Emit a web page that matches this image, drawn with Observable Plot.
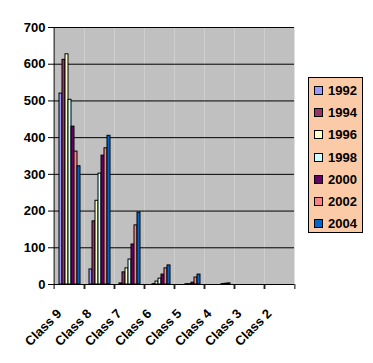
<!DOCTYPE html>
<html>
<head>
<meta charset="utf-8">
<script src="https://cdn.jsdelivr.net/npm/d3@7"></script>
<script src="https://cdn.jsdelivr.net/npm/@observablehq/plot@0.6"></script>
<style>
  html, body { margin: 0; padding: 0; background: white; }
  #wrap { position: relative; width: 373px; height: 363px; }
  #legend {
    position: absolute; left: 308px; top: 77px; width: 55px; height: 156px;
    box-sizing: border-box; border: 1px solid black; background: #fbcaa7;
    font: bold 13px "Liberation Sans", Arial, sans-serif;
    padding-top: 1px;
  }
  .item { display: flex; align-items: center; height: 22.3px; padding-left: 5px; }
  .sw { width: 7px; height: 7px; border: 1px solid black; margin-right: 5px; }
</style>
</head>
<body>
<div id="wrap"></div>
<script>
const classes = ["Class 9", "Class 8", "Class 7", "Class 6", "Class 5", "Class 4", "Class 3", "Class 2"];
const years = ["1992", "1994", "1996", "1998", "2000", "2002", "2004"];
const colors = ["#9999ff", "#993366", "#ffffcc", "#ccffff", "#660066", "#ff8080", "#0066cc"];
const yTicks = [0, 100, 200, 300, 400, 500, 600, 700];

const v1992 = [520, 41, 3, 0, 0, 0, 0, 0];
const v1994 = [612, 172, 33, 1, 0, 0, 0, 0];
const v1996 = [627, 228, 44, 8, 1, 0, 0, 0];
const v1998 = [503, 302, 68, 16, 1, 0, 0, 0];
const v2000 = [430, 351, 109, 27, 5, 1, 0, 0];
const v2002 = [362, 371, 161, 44, 19, 2, 0, 0];
const v2004 = [322, 405, 196, 52, 27, 3, 0, 0];

const series = [v1992, v1994, v1996, v1998, v2000, v2002, v2004];
const rows = [];
years.forEach((yr, i) => classes.forEach((c, j) => rows.push({cls: c, year: yr, value: series[i][j]})));

const W = 373, H = 363, mL = 51, mR = 76, mT = 27, mB = 79;
const half = (W - mL - mR) / classes.length / 2;

const chart = Plot.plot({
  width: W, height: H,
  marginLeft: mL, marginRight: mR, marginTop: mT, marginBottom: mB,
  style: {fontFamily: "'Liberation Sans', Arial, sans-serif", fontSize: "13px", fontWeight: "bold", color: "black", background: "white"},
  fx: {domain: classes, padding: 0, label: null, axis: null},
  x: {domain: years, paddingInner: 0, paddingOuter: 0.5, axis: null},
  y: {domain: [0, 700], label: null, axis: null},
  color: {domain: years, range: colors},
  marks: [
    Plot.frame({fill: "#c0c0c0", stroke: null}),
    Plot.gridY(yTicks, {stroke: "black", strokeOpacity: 1}),
    Plot.barY(rows, {fx: "cls", x: "year", y: "value", fill: "year", stroke: "black", strokeWidth: 1}),
    Plot.ruleY([0], {stroke: "black"}),
    Plot.ruleX([classes[0]], {fx: d => d, x: null, dx: -half, stroke: "black"}),
    Plot.axisY(yTicks, {anchor: "left", tickSize: 6, tickPadding: 3, fontSize: 13, fontWeight: "bold", label: null}),
    Plot.axisFx({anchor: "bottom", tickSize: 0, tickRotate: -45, tickPadding: 27, dx: -10, fontSize: 13, fontWeight: "bold", label: null}),
    Plot.axisFx({anchor: "bottom", tickSize: 5, fill: "none", dx: -half, label: null}),
    Plot.axisFx([classes[classes.length - 1]], {anchor: "bottom", tickSize: 5, fill: "none", dx: half, label: null})
  ]
});

d3.select(chart).selectAll("text")
  .attr("font-size", 13)
  .style("font-size", "13px")
  .style("font-weight", "bold")
  .style("font-family", "'Liberation Sans', Arial, sans-serif");

const wrap = document.getElementById("wrap");
wrap.appendChild(chart);
const legend = document.createElement("div");
legend.id = "legend";
years.forEach((yr, i) => {
  const item = document.createElement("div");
  item.className = "item";
  const sw = document.createElement("div");
  sw.className = "sw";
  sw.style.background = colors[i];
  const t = document.createElement("span");
  t.textContent = yr;
  item.appendChild(sw); item.appendChild(t);
  legend.appendChild(item);
});
wrap.appendChild(legend);
</script>
</body>
</html>
